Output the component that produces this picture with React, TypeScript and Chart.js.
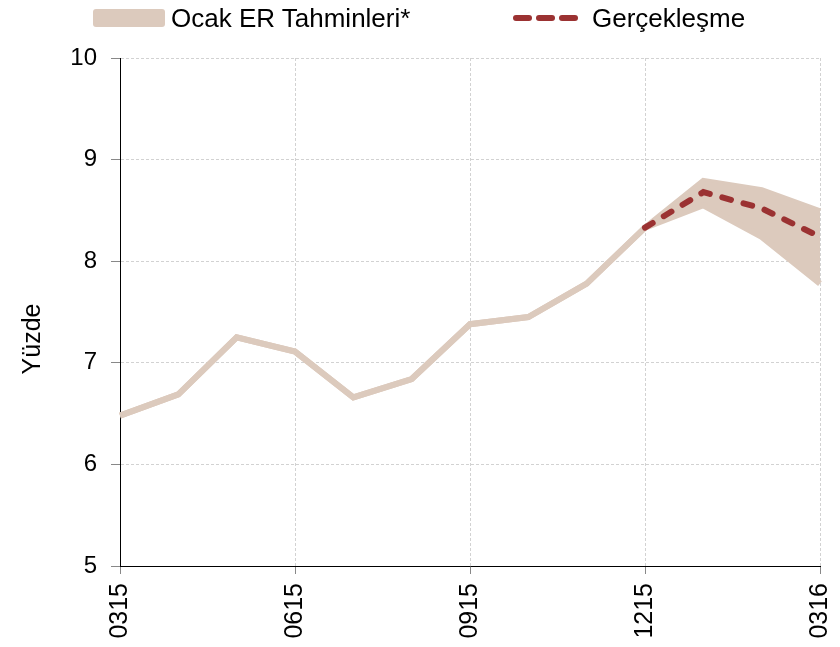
import React, { useEffect, useRef } from "react";
import { Chart, registerables } from "chart.js";

Chart.register(...registerables);

const categories = ["0315", "0415", "0515", "0615", "0715", "0815", "0915", "1015", "1115", "1215", "0116", "0216", "0316"];
const bandUpper = [6.48, 6.69, 7.25, 7.11, 6.66, 6.84, 7.38, 7.45, 7.78, 8.33, 8.79, 8.70, 8.49];
const bandLower = [6.48, 6.69, 7.25, 7.11, 6.66, 6.84, 7.38, 7.45, 7.78, 8.33, 8.55, 8.24, 7.78];
const actual = [null, null, null, null, null, null, null, null, null, 8.33, 8.68, 8.52, 8.24];
const yTicks = [5, 6, 7, 8, 9, 10];

const BAND = "#dccabd";
const RED = "#9b3232";
const GRID = "#d2d2d2";
const FONT = "'Liberation Sans', Arial, sans-serif";

const titlePlugin = {
  id: "yTitle",
  afterDraw(chart: any) {
    const ctx = chart.ctx;
    ctx.save();
    ctx.translate(33, 339);
    ctx.rotate(-Math.PI / 2);
    ctx.font = `25px ${FONT}`;
    ctx.fillStyle = "#000";
    ctx.textAlign = "center";
    ctx.textBaseline = "middle";
    ctx.fillText("Yüzde", 0, 0);
    ctx.restore();
  },
};

export default function App() {
  const ref = useRef<HTMLCanvasElement>(null);
  useEffect(() => {
    const chart = new Chart(ref.current!, {
      type: "line",
      data: {
        labels: categories,
        datasets: [
          {
            label: "upper",
            data: bandUpper,
            borderColor: BAND,
            borderWidth: 6,
            pointRadius: 0,
            fill: false,
            tension: 0,
            order: 2,
          },
          {
            label: "Ocak ER Tahminleri*",
            data: bandLower,
            borderColor: BAND,
            backgroundColor: BAND,
            borderWidth: 6,
            pointRadius: 0,
            fill: "-1",
            tension: 0,
            order: 1,
          },
          {
            label: "Gerçekleşme",
            data: actual,
            borderColor: RED,
            borderWidth: 6,
            borderDash: [9, 13],
            borderCapStyle: "round",
            pointRadius: 0,
            fill: false,
            tension: 0,
            order: 0,
          },
        ],
      },
      options: {
        animation: false,
        responsive: true,
        maintainAspectRatio: false,
        layout: { padding: { top: 58, right: 20, left: 0, bottom: 0 } },
        plugins: { legend: { display: false }, tooltip: { enabled: false } },
        scales: {
          x: {
            afterFit: (s: any) => {
              s.height = 81;
              s.paddingRight = 0;
              s.paddingLeft = 0;
            },
            border: { color: "#000", width: 1, dash: [3, 2] },
            grid: {
              color: (c: any) => (c.index % 3 === 0 ? GRID : "transparent"),
              tickColor: (c: any) => (c.index % 3 === 0 ? "#888" : "transparent"),
              tickBorderDash: [],
              tickLength: 8,
            },
            ticks: {
              autoSkip: false,
              minRotation: 90,
              maxRotation: 90,
              padding: 9,
              color: "#000",
              font: { family: FONT, size: 25 },
              callback: (_v: any, i: number) => (i % 3 === 0 ? categories[i] : ""),
            },
          },
          y: {
            min: 5,
            max: 10,
            afterFit: (s: any) => {
              s.width = 120;
              s.paddingTop = 0;
              s.paddingBottom = 0;
            },
            afterBuildTicks: (s: any) => {
              s.ticks = yTicks.map((v) => ({ value: v }));
            },
            border: { color: "#000", width: 1, dash: [3, 2] },
            grid: {
              color: GRID,
              tickColor: "#888",
              tickBorderDash: [],
              tickLength: 9,
            },
            ticks: {
              padding: 14,
              color: "#000",
              font: { family: FONT, size: 24 },
            },
          },
        },
      },
      plugins: [titlePlugin],
    } as any);
    return () => chart.destroy();
  }, []);

  const textStyle: React.CSSProperties = {
    position: "absolute",
    top: 4,
    fontFamily: FONT,
    fontSize: 26,
    lineHeight: "28px",
    color: "#000",
    whiteSpace: "nowrap",
  };

  return (
    <div style={{ position: "fixed", left: 0, top: 0, width: 840, height: 647, background: "#fff" }}>
      <canvas ref={ref} />
      <div style={{ position: "absolute", left: 93, top: 9, width: 72, height: 18, borderRadius: 3, background: BAND }} />
      <div style={{ ...textStyle, left: 171 }}>Ocak ER Tahminleri*</div>
      {[513, 536, 559].map((x) => (
        <div key={x} style={{ position: "absolute", left: x, top: 15, width: 19, height: 6, borderRadius: 3, background: RED }} />
      ))}
      <div style={{ ...textStyle, left: 592 }}>Gerçekleşme</div>
    </div>
  );
}
